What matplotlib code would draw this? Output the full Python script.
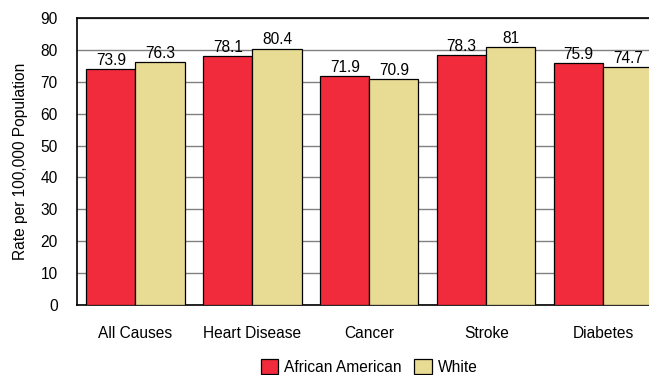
import numpy as np
import matplotlib.pyplot as plt

plt.rcParams['font.family'] = ['Liberation Sans', 'DejaVu Sans']

# rates per 100,000 population
causes = ["All Causes", "Heart Disease", "Cancer", "Stroke", "Diabetes"]
african_american = [73.9, 78.1, 71.9, 78.3, 75.9]
white = [76.3, 80.4, 70.9, 81, 74.7]
value_labels_aa = ["73.9", "78.1", "71.9", "78.3", "75.9"]
value_labels_w = ["76.3", "80.4", "70.9", "81", "74.7"]

RED = "#F22B3C"
TAN = "#E8DB93"
FS = 11.2

fig = plt.figure(figsize=(6.49, 3.75), dpi=100)
ax = fig.add_axes([0.1186, 0.1867, 0.901, 0.765])

x = np.arange(len(causes))
w = 0.42
b1 = ax.bar(x - w / 2, african_american, w, color=RED, edgecolor="black",
            linewidth=0.9, label="African American", zorder=3)
b2 = ax.bar(x + w / 2, white, w, color=TAN, edgecolor="black",
            linewidth=0.9, label="White", zorder=3)

for bars, labels in ((b1, value_labels_aa), (b2, value_labels_w)):
    for bar, lab in zip(bars, labels):
        ax.text(bar.get_x() + bar.get_width() / 2, bar.get_height() + 0.4, lab,
                ha="center", va="bottom", fontsize=FS, zorder=4)

ax.set_xlim(-0.5, len(causes) - 0.5)
ax.set_ylim(0, 90)
ax.set_yticks(np.arange(0, 91, 10))
ax.set_xticks(x)
ax.set_xticklabels(causes)
ax.tick_params(axis="both", length=0, labelsize=FS)
ax.tick_params(axis="x", pad=15)
ax.tick_params(axis="y", pad=14)
ax.yaxis.grid(True, color="#808080", linewidth=1, zorder=0)
ax.set_axisbelow(True)
for side in ("top", "left", "bottom"):
    ax.spines[side].set_linewidth(1.2)
ax.spines["right"].set_visible(False)

ax.set_ylabel("Rate per 100,000 Population", fontsize=FS, labelpad=9)

ax.legend(loc="upper center", bbox_to_anchor=(0.5, -0.155), ncol=2,
          frameon=False, fontsize=FS, handlelength=1.1, handleheight=1.1,
          handletextpad=0.4, columnspacing=0.8, borderaxespad=0.2)

fig.savefig("out.png", dpi=100)
